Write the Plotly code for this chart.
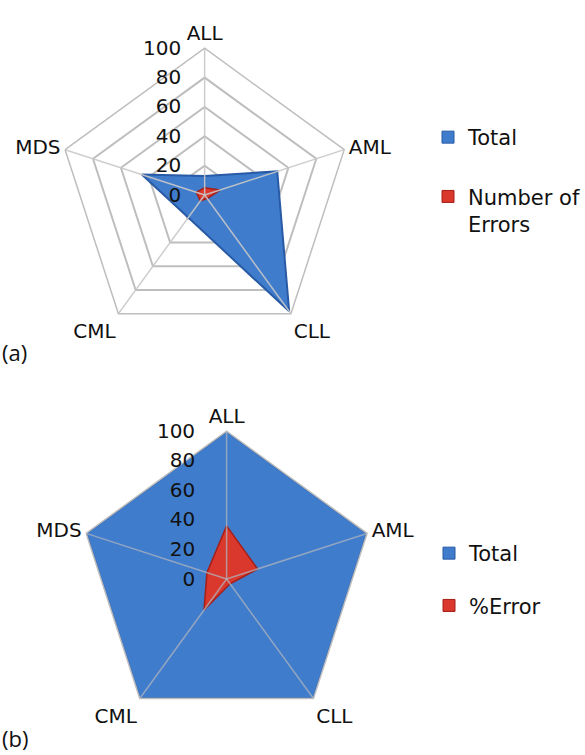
import plotly.graph_objects as go

# Leukaemia types around the radar
categories = ["ALL", "AML", "CLL", "CML", "MDS"]

# Panel (a): raw counts
total_counts = [13, 52, 98, 19, 45]
error_counts = [5, 11, 3, 5, 6]

# Panel (b): percentages
total_pct = [100, 100, 100, 100, 100]
error_pct = [36, 22, 4, 26, 14]

radial_ticks = [0, 20, 40, 60, 80, 100]

W, H = 585, 755
FONT = "DejaVu Sans"
TXT = "#111111"
BLUE_FILL = "rgb(64,124,204)"
BLUE_EDGE = "rgb(40,90,165)"
RED_FILL = "rgb(218,56,44)"
RED_EDGE = "rgb(165,30,24)"
GRID = "rgb(190,190,190)"


def closed(vals):
    return list(vals) + [vals[0]]


def box(cx, cy, r):
    """Square paper-domain around a centre given in pixels from the top-left."""
    return dict(
        x=[(cx - r) / W, (cx + r) / W],
        y=[(H - cy - r) / H, (H - cy + r) / H],
    )


def polar_cfg(domain, label_gap):
    return dict(
        domain=domain,
        bgcolor="rgba(0,0,0,0)",
        gridshape="linear",
        radialaxis=dict(
            range=[0, 100], tickvals=radial_ticks, angle=90, tickangle=90,
            side="counterclockwise", showline=False, showgrid=True,
            gridcolor=GRID, gridwidth=1.5,
            ticks="outside", ticklen=label_gap, tickcolor="rgba(0,0,0,0)",
            tickfont=dict(family=FONT, size=20, color=TXT),
        ),
        angularaxis=dict(
            categoryarray=categories, categoryorder="array",
            rotation=90, direction="clockwise",
            showline=True, linecolor=GRID, linewidth=1.5,
            showgrid=False, ticks="",
            tickfont=dict(family=FONT, size=20, color=TXT),
        ),
    )


fig = go.Figure()

panels = [
    ("polar", "legend", total_counts, error_counts, "Number of<br>Errors",
     "rgba(200,200,200,0.9)"),
    ("polar2", "legend2", total_pct, error_pct, "%Error",
     "rgba(175,180,190,0.75)"),
]

for subplot, legend, tot, err, err_name, spoke_col in panels:
    fig.add_trace(go.Scatterpolar(
        r=closed(tot), theta=closed(categories), subplot=subplot,
        mode="lines", fill="toself", fillcolor=BLUE_FILL,
        line=dict(color=BLUE_EDGE, width=2), showlegend=False,
        hoverinfo="skip",
    ))
    fig.add_trace(go.Scatterpolar(
        r=closed(err), theta=closed(categories), subplot=subplot,
        mode="lines", fill="toself", fillcolor=RED_FILL,
        line=dict(color=RED_EDGE, width=1.5), showlegend=False,
        hoverinfo="skip",
    ))
    # spokes drawn over the filled areas
    for cat in categories:
        fig.add_trace(go.Scatterpolar(
            r=[0, radial_ticks[-1]], theta=[cat, cat], subplot=subplot,
            mode="lines", line=dict(color=spoke_col, width=1.5),
            showlegend=False, hoverinfo="skip",
        ))
    # legend keys
    for name, fillc, edgec, grp in [("Total", BLUE_FILL, BLUE_EDGE, "t"),
                                    (err_name, RED_FILL, RED_EDGE, "e")]:
        fig.add_trace(go.Scatterpolar(
            r=[None], theta=[None], subplot=subplot, name=name,
            mode="markers", legend=legend, legendgroup=subplot + grp,
            marker=dict(symbol="square", size=12, color=fillc,
                        line=dict(color=edgec, width=1)),
        ))

legend_common = dict(
    font=dict(family=FONT, size=21, color=TXT),
    bgcolor="rgba(0,0,0,0)", traceorder="grouped", valign="top",
    xanchor="left", yanchor="top", itemwidth=30,
)

fig.update_layout(
    width=W, height=H, autosize=False,
    margin=dict(l=0, r=0, t=0, b=0),
    paper_bgcolor="white", plot_bgcolor="white",
    polar=polar_cfg(box(205, 195, 147), 16),
    polar2=polar_cfg(box(227, 579, 148), 24),
    legend=dict(x=429 / W, y=1 - 117 / H, tracegroupgap=29, **legend_common),
    legend2=dict(x=429 / W, y=1 - 533 / H, tracegroupgap=22, **legend_common),
    annotations=[
        dict(text="(a)", x=0, y=1 - 352 / H, xref="paper", yref="paper",
             xanchor="left", yanchor="middle", showarrow=False,
             font=dict(family="Open Sans", size=22, color=TXT)),
        dict(text="(b)", x=0, y=1 - 738 / H, xref="paper", yref="paper",
             xanchor="left", yanchor="middle", showarrow=False,
             font=dict(family="Open Sans", size=22, color=TXT)),
    ],
)

fig.write_html("out.html")
